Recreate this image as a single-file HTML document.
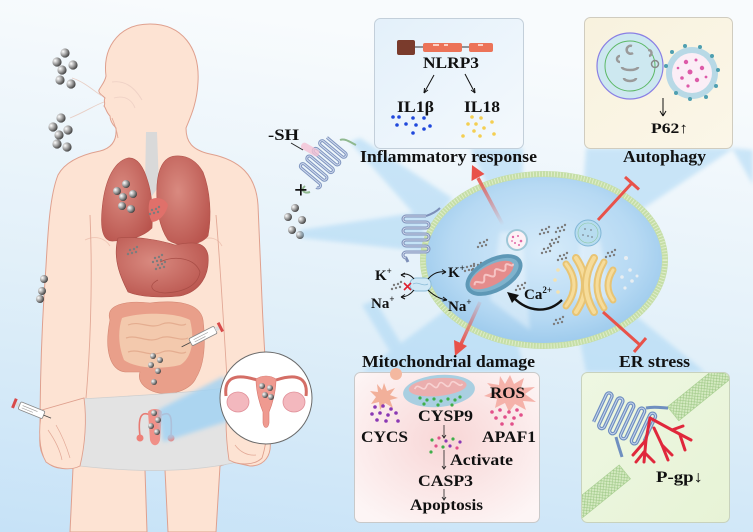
<!DOCTYPE html>
<html><head><meta charset="utf-8"><style>
html,body{margin:0;padding:0;width:753px;height:532px;overflow:hidden;background:#e6f2fa}
svg{display:block}
text{font-family:"Liberation Serif",serif;font-weight:bold;fill:#111}
</style></head><body>
<svg width="753" height="532" viewBox="0 0 753 532" xmlns="http://www.w3.org/2000/svg">
<defs>
<linearGradient id="bg" x1="0.2" y1="0" x2="0" y2="1">
<stop offset="0" stop-color="#f8fbfd"/><stop offset="0.5" stop-color="#e2f0f9"/><stop offset="1" stop-color="#c6e2f7"/>
</linearGradient>
<radialGradient id="cellg" cx="0.5" cy="0.45" r="0.6">
<stop offset="0" stop-color="#d6ebfa"/><stop offset="0.65" stop-color="#b6d9f3"/><stop offset="1" stop-color="#94c5ea"/>
</radialGradient>
<radialGradient id="ball" cx="0.3" cy="0.35" r="0.75">
<stop offset="0" stop-color="#ffffff"/><stop offset="0.45" stop-color="#a8a8a8"/><stop offset="1" stop-color="#363636"/>
</radialGradient>
<radialGradient id="lung" cx="0.4" cy="0.4" r="0.7">
<stop offset="0" stop-color="#d98a80"/><stop offset="1" stop-color="#b9544d"/>
</radialGradient>
<radialGradient id="mitoBox" cx="0.5" cy="0.45" r="0.65">
<stop offset="0" stop-color="#f8d6d6"/><stop offset="1" stop-color="#fdf5f5"/>
</radialGradient>
<linearGradient id="inflBox" x1="0" y1="0" x2="1" y2="1">
<stop offset="0" stop-color="#e3f0fa"/><stop offset="1" stop-color="#f4f9fd"/>
</linearGradient>
<linearGradient id="autoBox" x1="0" y1="0" x2="1" y2="1">
<stop offset="0" stop-color="#f8f2de"/><stop offset="1" stop-color="#fbf6e8"/>
</linearGradient>
<linearGradient id="erBox" x1="0" y1="0" x2="1" y2="1">
<stop offset="0" stop-color="#eef7e2"/><stop offset="1" stop-color="#e7f3d6"/>
</linearGradient>
<linearGradient id="redUp" x1="503" y1="225" x2="476" y2="174" gradientUnits="userSpaceOnUse">
<stop offset="0" stop-color="#e8524a" stop-opacity="0"/><stop offset="1" stop-color="#e8524a"/>
</linearGradient>
<linearGradient id="redDn" x1="480" y1="302" x2="460" y2="345" gradientUnits="userSpaceOnUse">
<stop offset="0" stop-color="#e8524a" stop-opacity="0.1"/><stop offset="1" stop-color="#e8524a"/>
</linearGradient>
<pattern id="hatch" width="4" height="4" patternUnits="userSpaceOnUse">
<rect width="4" height="4" fill="#d5eac2"/><path d="M0,4 L4,0 M0,0 L4,4" stroke="#9cc784" stroke-width="0.6"/>
</pattern>
<clipPath id="erClip"><rect x="582" y="373" width="147" height="149" rx="6"/></clipPath>
<filter id="blur" x="-20%" y="-20%" width="140%" height="140%"><feGaussianBlur stdDeviation="2"/></filter>
<g id="pc" fill="#7d7d7d">
<circle cx="0" cy="0" r="1.2"/><circle cx="4" cy="-1" r="1.2"/><circle cx="2" cy="3" r="1.2"/><circle cx="6" cy="2" r="1.2"/><circle cx="-2" cy="4" r="1.2"/><circle cx="7" cy="-3" r="1.2"/>
</g>
</defs>

<rect width="753" height="532" fill="url(#bg)"/>

<!-- ===== BODY ===== -->
<g stroke="#dfa08e" stroke-width="1" fill="#fde3d3">
<path d="M150,24 C182,24 200,48 198,82 C197,104 190,118 186,128 C186,142 192,150 210,154 C240,160 256,175 258,205 L262,300 C264,350 268,400 270,440 C272,455 265,466 250,466 L232,462 L220,466 L216,532 L168,532 L165,470 L145,470 L147,532 L70,532 L73,468 L65,468 C48,470 38,455 40,435 C40,380 42,320 46,266 C48,230 50,195 58,175 C66,160 85,154 100,151 C112,148 117,140 116,128 C112,124 110,120 110,116 C106,112 106,108 104,106 C106,104 103,100 105,98 C102,95 98,93 99,90 C101,86 105,82 106,76 C104,60 108,45 120,34 C128,27 138,24 150,24 Z"/>
</g>
<g fill="none" stroke="#e2a896" stroke-width="0.9">
<path d="M90,215 C92,260 92,330 86,398"/>
<path d="M216,215 C220,260 224,330 228,395"/>
<path d="M112,118 C115,125 117,132 118,138"/>
<path d="M85,240 C95,235 105,238 110,246" opacity="0.5"/>
<path d="M200,240 C210,236 218,238 222,246" opacity="0.5"/>
<path d="M72,78 C85,82 95,92 102,96" stroke="#e8cfc6"/>
<path d="M70,118 C85,112 95,105 104,102" stroke="#e8cfc6"/>
<path d="M112,82 C125,80 135,88 142,100" stroke="#efd2c6"/>
<path d="M114,98 C125,95 132,100 135,108" stroke="#efd2c6"/>
</g>

<path d="M146,132 L157,132 L159,186 L152,196 L145,186 Z" fill="#d9d9d9"/>
<path d="M128,158 C112,162 104,185 102,210 C100,232 104,242 114,241 C128,240 142,238 152,228 C153,210 152,195 148,182 C144,168 138,157 128,158 Z" fill="url(#lung)" stroke="#b0524a" stroke-width="0.6"/>
<path d="M175,156 C163,157 158,170 157,185 C156,205 158,225 168,240 C180,248 200,246 208,236 C212,215 210,190 203,172 C196,160 186,155 175,156 Z" fill="url(#lung)" stroke="#b0524a" stroke-width="0.6"/>
<path d="M150,200 C156,196 165,198 168,205 C166,215 158,222 152,222 C148,215 148,205 150,200 Z" fill="#e0706a"/>
<path d="M118,238 C135,236 160,240 175,245 C190,242 205,240 208,255 C210,275 200,292 180,296 C160,298 140,297 128,292 C122,280 112,260 118,238 Z" fill="url(#lung)" stroke="#a84d46" stroke-width="0.6"/>
<path d="M160,262 C175,255 195,258 200,272 C198,285 185,292 165,293 C150,292 148,285 158,280" fill="none" stroke="#a84d46" stroke-width="0.8"/>
<path d="M110,320 C105,305 125,300 150,303 C175,300 200,302 203,320 C206,345 204,365 196,378 C190,392 165,398 150,390 C140,385 138,378 140,372 L125,372 C110,370 104,350 110,320 Z" fill="#e99f8a" stroke="#d48874" stroke-width="0.6"/>
<path d="M122,318 C140,312 175,312 190,320 C195,340 192,358 180,365 C160,370 135,368 124,360 C118,345 118,330 122,318 Z" fill="#f3c9ad"/>
<g fill="none" stroke="#e4ad90" stroke-width="1.2">
<path d="M128,325 C140,320 150,330 162,324 C172,320 180,328 186,324"/>
<path d="M126,338 C138,334 148,344 160,338 C170,334 180,342 188,338"/>
<path d="M128,352 C140,348 150,358 162,352 C172,348 180,356 186,352"/>
</g>

<path d="M80,399 C130,396 190,393 233,387 L233,463 C200,470 150,474 80,466 Z" fill="#e3e3e3" stroke="#cfcfcf" stroke-width="0.8"/>
<path d="M84,398 C87,420 85,445 80,466 C70,471 55,469 46,462 C39,450 38,430 42,410 Z" fill="#fde3d3" stroke="#dfa08e" stroke-width="0.9"/>
<path d="M48,430 C55,440 60,450 62,460 M56,425 C63,437 67,448 70,458" fill="none" stroke="#e2a896" stroke-width="0.7"/>
<path d="M227,395 C225,420 226,440 229,460 C240,466 255,465 262,458 C268,440 268,420 266,400 Z" fill="#fde3d3" stroke="#dfa08e" stroke-width="0.9"/>
<path d="M235,445 C240,452 248,456 256,455" fill="none" stroke="#e2a896" stroke-width="0.7"/>

<g stroke="#e77a72" stroke-width="1.6" fill="none">
<path d="M150,415 C140,410 138,420 140,436"/><path d="M162,415 C172,410 172,420 171,436"/>
</g>
<circle cx="140" cy="438" r="3.5" fill="#ee8078"/><circle cx="171" cy="438" r="3.5" fill="#ee8078"/>
<path d="M148,412 C150,408 160,408 162,412 L160,440 C158,447 152,447 150,440 Z" fill="#f09088"/>

<polygon points="158,410 163,442 228,421 224,376" fill="#9fd2f4" opacity="0.8" filter="url(#blur)"/>
<circle cx="266" cy="398" r="46" fill="#ffffff" stroke="#6a6a6a" stroke-width="1"/>
<path d="M257,380 C232,372 224,380 226,396" fill="none" stroke="#d46e66" stroke-width="3"/>
<path d="M276,380 C300,372 308,380 306,396" fill="none" stroke="#d46e66" stroke-width="3"/>
<ellipse cx="238" cy="402" rx="11" ry="10" fill="#f3b8be" stroke="#e08f98" stroke-width="0.8"/>
<ellipse cx="294" cy="402" rx="11" ry="10" fill="#f3b8be" stroke="#e08f98" stroke-width="0.8"/>
<path d="M256,379 C256,392 260,405 263,412 L263,423 C264,429 268,429 269,423 L269,412 C272,405 276,392 276,379 C270,375 262,375 256,379 Z" fill="#ef9a90" stroke="#d77a72" stroke-width="0.6"/>
<g fill="url(#ball)"><circle cx="262" cy="386" r="3"/><circle cx="270" cy="388" r="3"/><circle cx="265" cy="395" r="3"/><circle cx="271" cy="397" r="3"/></g>

<g transform="translate(203,336) rotate(-27)">
<line x1="-24" y1="0" x2="-14" y2="0" stroke="#444" stroke-width="0.8"/>
<rect x="-14" y="-4" width="28" height="8" rx="1.5" fill="#fff" stroke="#888" stroke-width="0.8"/>
<path d="M-10,-1 h16 M-10,1.5 h12" stroke="#999" stroke-width="0.6"/>
<rect x="14" y="-2" width="4" height="4" fill="#ddd"/>
<rect x="18" y="-5" width="3" height="10" fill="#d84a4a"/>
</g>
<g transform="translate(26,408) rotate(22)">
<rect x="-14" y="-5" width="3" height="10" fill="#d84a4a"/>
<rect x="-11" y="-2" width="4" height="4" fill="#ddd"/>
<rect x="-7" y="-4" width="26" height="8" rx="1.5" fill="#fff" stroke="#888" stroke-width="0.8"/>
<path d="M-4,-1 h16 M-4,1.5 h12" stroke="#999" stroke-width="0.6"/>
<line x1="19" y1="0" x2="27" y2="0" stroke="#444" stroke-width="0.8"/>
</g>

<g fill="url(#ball)">
<circle cx="65" cy="53" r="4.6"/><circle cx="57" cy="62" r="4.6"/><circle cx="73" cy="65" r="4.6"/><circle cx="62" cy="70" r="4.6"/><circle cx="60" cy="80" r="4.6"/><circle cx="71" cy="84" r="4.6"/>
<circle cx="61" cy="118" r="4.6"/><circle cx="53" cy="127" r="4.6"/><circle cx="68" cy="130" r="4.6"/><circle cx="59" cy="135" r="4.6"/><circle cx="57" cy="144" r="4.6"/><circle cx="67" cy="147" r="4.6"/>
<circle cx="44" cy="279" r="4"/><circle cx="42" cy="291" r="4"/><circle cx="40" cy="299" r="4"/>
<circle cx="126" cy="184" r="4"/><circle cx="117" cy="191" r="4"/><circle cx="133" cy="194" r="4"/><circle cx="123" cy="197" r="4"/><circle cx="122" cy="206" r="4"/><circle cx="131" cy="209" r="4"/>
<circle cx="295" cy="208" r="4"/><circle cx="288" cy="217" r="4"/><circle cx="302" cy="220" r="4"/><circle cx="292" cy="230" r="4"/><circle cx="300" cy="235" r="4"/>
<circle cx="153" cy="356" r="3"/><circle cx="160" cy="360" r="3"/><circle cx="151" cy="365" r="3"/><circle cx="158" cy="371" r="3"/><circle cx="154" cy="382" r="3"/>
<circle cx="154" cy="413" r="3"/><circle cx="158" cy="420" r="3"/><circle cx="151" cy="426" r="3"/><circle cx="157" cy="432" r="3"/>
</g>
<use href="#pc" x="152" y="210"/><use href="#pc" x="130" y="250"/><use href="#pc" x="155" y="258"/><use href="#pc" x="158" y="265"/>

<!-- ===== BEAMS ===== -->
<g fill="#a9d6f4" opacity="0.55" filter="url(#blur)">
<polygon points="350,142 360,138 452,198 430,232"/>
<polygon points="470,148 523,148 522,236 510,236"/>
<polygon points="586,148 734,148 602,236 580,234"/>
<polygon points="470,292 506,298 525,372 362,372"/>
<polygon points="572,300 614,298 705,372 586,372"/>
<polygon points="300,230 302,238 428,252 420,212"/>
<polygon points="732,148 753,150 753,185"/>
<polygon points="362,305 375,300 412,362 398,365"/>
</g>

<!-- -SH protein outside -->
<g transform="translate(322,162) rotate(40)" fill="none">
<path d="M-12,-22 h24 a2.5,2.5 0 0 1 0,5 h-24 a2.5,2.5 0 0 0 0,5 h24 a2.5,2.5 0 0 1 0,5 h-24 a2.5,2.5 0 0 0 0,5 h24 a2.5,2.5 0 0 1 0,5 h-24 a2.5,2.5 0 0 0 0,5 h24 a2.5,2.5 0 0 1 0,5 h-24 a2.5,2.5 0 0 0 0,5 h24 a2.5,2.5 0 0 1 0,5" stroke="#7f95bf" stroke-width="3"/>
<path d="M-12,-22 h24 a2.5,2.5 0 0 1 0,5 h-24 a2.5,2.5 0 0 0 0,5 h24 a2.5,2.5 0 0 1 0,5 h-24 a2.5,2.5 0 0 0 0,5 h24 a2.5,2.5 0 0 1 0,5 h-24 a2.5,2.5 0 0 0 0,5 h24 a2.5,2.5 0 0 1 0,5 h-24 a2.5,2.5 0 0 0 0,5 h24 a2.5,2.5 0 0 1 0,5" stroke="#d3dcef" stroke-width="1"/>
</g>
<path d="M340,140 C345,138 350,142 356,145" fill="none" stroke="#8fb88f" stroke-width="2"/>
<path d="M305,186 C300,190 304,194 310,192" fill="none" stroke="#8fb88f" stroke-width="2"/>
<rect x="300" y="146" width="20" height="7" rx="3" fill="#f4c2d4" opacity="0.8" transform="rotate(30 310 150)"/>
<line x1="291" y1="143" x2="303" y2="150" stroke="#222" stroke-width="1"/>

<!-- ===== CELL ===== -->
<ellipse cx="544" cy="260" rx="121" ry="86" fill="url(#cellg)" stroke="#c5dea6" stroke-width="6"/>
<ellipse cx="544" cy="260" rx="121" ry="86" fill="none" stroke="#eaf3dc" stroke-width="5" stroke-dasharray="1 2" opacity="0.7"/>
<g fill="#ffffff" opacity="0.35" filter="url(#blur)">
<polygon points="500,232 522,232 530,330 490,300"/>
<polygon points="580,240 600,240 612,300 575,300"/>
</g>

<g fill="none">
<path d="M426,216 h-20 a3,3 0 0 0 0,6 h20 a3,3 0 0 1 0,6 h-20 a3,3 0 0 0 0,6 h20 a3,3 0 0 1 0,6 h-20 a3,3 0 0 0 0,6 h20 a3,3 0 0 1 0,6 h-20 a3,3 0 0 0 0,6 l2,4" stroke="#7d8fb8" stroke-width="3"/>
<path d="M426,216 h-20 a3,3 0 0 0 0,6 h20 a3,3 0 0 1 0,6 h-20 a3,3 0 0 0 0,6 h20 a3,3 0 0 1 0,6 h-20 a3,3 0 0 0 0,6 h20 a3,3 0 0 1 0,6 h-20 a3,3 0 0 0 0,6" stroke="#cfd8ec" stroke-width="1"/>
<path d="M426,216 C432,214 436,212 440,208" stroke="#7d8fb8" stroke-width="2"/>
</g>

<rect x="410" y="278" width="21" height="13" rx="6" fill="#cfe8f6" stroke="#8cbcd8" stroke-width="1"/>
<path d="M413,284 C418,281 423,287 428,284" fill="none" stroke="#8cbcd8" stroke-width="0.8"/>
<g fill="none" stroke="#111" stroke-width="1">
<path d="M414,279 C410,274 405,273 401,275"/><path d="M401,275 l4,-2 m-4,2 l4,2"/>
<path d="M428,279 C434,272 440,271 446,272"/><path d="M446,272 l-4,-2.5 m4,2.5 l-4,2"/>
<path d="M414,290 C410,295 405,297 401,297"/><path d="M401,297 l4,-2.5 m-4,2.5 l4,2"/>
<path d="M428,290 C434,296 440,299 447,300"/><path d="M447,300 l-4,-3 m4,3 l-4.5,1"/>
</g>
<path d="M404,283 l7,7 m0,-7 l-7,7" stroke="#e02030" stroke-width="1.6"/>
<use href="#pc" x="394" y="285"/><use href="#pc" x="467" y="267"/>

<circle cx="517" cy="240" r="11" fill="#9fc8d8"/>
<circle cx="517" cy="240" r="9" fill="#fdf1f6"/>
<g fill="#e066a6"><circle cx="513" cy="237" r="1.2"/><circle cx="518" cy="236" r="1"/><circle cx="521" cy="241" r="1.3"/><circle cx="515" cy="243" r="1"/><circle cx="519" cy="245" r="1"/><circle cx="512" cy="241" r="0.9"/></g>
<circle cx="588" cy="233" r="13" fill="#b7dcef" stroke="#7fb6d6" stroke-width="1"/>
<circle cx="588" cy="233" r="10" fill="none" stroke="#8cc8a0" stroke-width="0.6"/>
<g fill="#8a9aa8"><circle cx="585" cy="229" r="1"/><circle cx="591" cy="230" r="1"/><circle cx="588" cy="236" r="1"/><circle cx="583" cy="235" r="1"/><circle cx="592" cy="237" r="1"/></g>

<use href="#pc" x="480" y="243"/><use href="#pc" x="542" y="230"/><use href="#pc" x="552" y="240"/><use href="#pc" x="544" y="249"/><use href="#pc" x="560" y="256"/><use href="#pc" x="558" y="228"/><use href="#pc" x="608" y="253"/><use href="#pc" x="518" y="286"/><use href="#pc" x="474" y="266"/><use href="#pc" x="556" y="320"/>
<g fill="#e8eef2"><circle cx="626" cy="258" r="2"/><circle cx="630" cy="270" r="1.8"/><circle cx="622" cy="277" r="1.8"/><circle cx="632" cy="281" r="1.8"/><circle cx="625" cy="288" r="1.6"/><circle cx="637" cy="276" r="1.5"/></g>

<g transform="translate(494,275) rotate(-28)">
<ellipse rx="31" ry="17" fill="#5e98b6"/>
<ellipse rx="27" ry="13" fill="#7fb2cc"/>
<ellipse cx="-2" cy="-1" rx="24" ry="10" fill="#e48c8c"/>
<path d="M-22,0 C-18,-8 -14,8 -10,-2 C-6,-10 -2,8 2,-2 C6,-10 10,8 14,-2 C17,-8 20,4 22,-1" fill="none" stroke="#f6c4c4" stroke-width="2"/>
</g>

<!-- golgi -->
<g fill="none" stroke-linecap="round">
<path d="M566,264 Q582,285 566,306" stroke="#e8c474" stroke-width="7"/>
<path d="M566,264 Q582,285 566,306" stroke="#f6dc9a" stroke-width="3"/>
<path d="M576,258 Q594,285 576,312" stroke="#e8c474" stroke-width="8"/>
<path d="M576,258 Q594,285 576,312" stroke="#f6dc9a" stroke-width="4"/>
<path d="M594,258 Q578,285 594,312" stroke="#e8c474" stroke-width="8"/>
<path d="M594,258 Q578,285 594,312" stroke="#f6dc9a" stroke-width="4"/>
<path d="M604,262 Q590,286 604,308" stroke="#e8c474" stroke-width="7"/>
<path d="M604,262 Q590,286 604,308" stroke="#f6dc9a" stroke-width="3"/>
<path d="M613,270 Q603,286 613,300" stroke="#e8c474" stroke-width="7"/>
<path d="M613,270 Q603,286 613,300" stroke="#f6dc9a" stroke-width="3"/>
</g>
<g fill="#f4e2b0"><circle cx="558" cy="270" r="1.8"/><circle cx="555" cy="280" r="1.8"/><circle cx="558" cy="292" r="1.8"/><circle cx="560" cy="302" r="1.6"/></g>

<path d="M562,300 C548,314 528,312 514,298" fill="none" stroke="#111" stroke-width="2.4"/>
<path d="M507,292 L519,295 L512,303 Z" fill="#111"/>

<line x1="503" y1="225" x2="478" y2="178" stroke="url(#redUp)" stroke-width="3.5"/>
<polygon points="472,165 484.5,174 471.5,181" fill="#e8524a"/>
<line x1="480" y1="302" x2="461" y2="344" stroke="url(#redDn)" stroke-width="3.5"/>
<polygon points="455,356 467,346 454,340" fill="#e8524a"/>
<line x1="598" y1="220" x2="632" y2="183" stroke="#e8524a" stroke-width="3"/>
<line x1="625" y1="177" x2="639" y2="189.5" stroke="#e8524a" stroke-width="3"/>
<line x1="603" y1="312" x2="640" y2="345" stroke="#e8524a" stroke-width="3"/>
<line x1="646" y1="338" x2="634" y2="352" stroke="#e8524a" stroke-width="3"/>

<!-- ===== BOXES ===== -->
<rect x="374.5" y="18.5" width="149" height="130" rx="6" fill="url(#inflBox)" stroke="#c3cfda" stroke-width="1"/>
<rect x="584.5" y="17.5" width="148" height="131" rx="6" fill="url(#autoBox)" stroke="#d0ccbf" stroke-width="1"/>
<rect x="354.5" y="372.5" width="185" height="150" rx="6" fill="url(#mitoBox)" stroke="#c9c9c9" stroke-width="1"/>
<rect x="581.5" y="372.5" width="148" height="150" rx="6" fill="url(#erBox)" stroke="#c8d2bd" stroke-width="1"/>

<rect x="397" y="40" width="18" height="15" rx="2" fill="#7a3b2c"/>
<line x1="415" y1="47" x2="470" y2="47" stroke="#333" stroke-width="1"/>
<rect x="423" y="43" width="39" height="9" rx="2" fill="#ec7358"/>
<rect x="469" y="43" width="24" height="9" rx="2" fill="#ec7358"/>
<rect x="433" y="44" width="6" height="2" fill="#fbd0c4"/><rect x="444" y="44" width="4" height="2" fill="#fbd0c4"/><rect x="478" y="44" width="5" height="2" fill="#fbd0c4"/>
<g stroke="#111" stroke-width="1" fill="none">
<path d="M434,75 L424,93"/><path d="M424,93 l0.5,-5 m-0.5,5 l4,-3"/>
<path d="M465,74 L475,93"/><path d="M475,93 l-4,-3 m4,3 l-0.5,-5"/>
</g>
<g fill="#1f48dc">
<circle cx="393" cy="117" r="1.8"/><circle cx="399" cy="117" r="1.8"/><circle cx="413" cy="118" r="1.8"/><circle cx="424" cy="118" r="1.8"/><circle cx="397" cy="125" r="1.8"/><circle cx="406" cy="124" r="1.8"/><circle cx="416" cy="125" r="1.8"/><circle cx="430" cy="126" r="1.8"/><circle cx="424" cy="129" r="1.8"/><circle cx="413" cy="133" r="1.8"/>
</g>
<g fill="#f4cf52">
<circle cx="472" cy="117" r="1.8"/><circle cx="481" cy="118" r="1.8"/><circle cx="468" cy="124" r="1.8"/><circle cx="476" cy="124" r="1.8"/><circle cx="492" cy="122" r="1.8"/><circle cx="484" cy="128" r="1.8"/><circle cx="474" cy="131" r="1.8"/><circle cx="463" cy="136" r="1.8"/><circle cx="480" cy="136" r="1.8"/><circle cx="494" cy="134" r="1.8"/>
</g>

<circle cx="630" cy="66" r="33" fill="#cde8f0" stroke="#8a7fe4" stroke-width="1.2"/>
<circle cx="630" cy="66" r="25" fill="none" stroke="#5cb866" stroke-width="1"/>
<g fill="none" stroke="#9a9a9a" stroke-width="2.5">
<path d="M632,46 a4,4 0 1 0 1,7"/><path d="M620,56 a3,3 0 1 0 0,6"/><path d="M648,50 a3,3 0 1 1 1,6"/>
<path d="M622,67 a8,3 0 0 0 16,0"/><path d="M624,78 a6,3 0 0 0 12,0"/>
</g>
<circle cx="655" cy="64" r="3.5" fill="none" stroke="#888" stroke-width="1.5"/>
<circle cx="692" cy="73" r="26" fill="#b8d9e6"/>
<g fill="#4f9fb0"><circle cx="666" cy="66" r="2"/><circle cx="672" cy="52" r="2"/><circle cx="685" cy="46" r="2"/><circle cx="700" cy="47" r="2"/><circle cx="712" cy="56" r="2"/><circle cx="718" cy="70" r="2"/><circle cx="716" cy="86" r="2"/><circle cx="706" cy="97" r="2"/><circle cx="690" cy="99" r="2"/><circle cx="676" cy="93" r="2"/></g>
<circle cx="692" cy="73" r="20" fill="#fbeef6"/>
<g fill="#dd5aa8"><circle cx="686" cy="62" r="2.2"/><circle cx="696" cy="60" r="1.5"/><circle cx="702" cy="68" r="2.2"/><circle cx="690" cy="72" r="2.5"/><circle cx="682" cy="78" r="1.8"/><circle cx="697" cy="80" r="2.2"/><circle cx="706" cy="77" r="1.4"/><circle cx="688" cy="86" r="1.6"/><circle cx="678" cy="68" r="1.3"/></g>
<g stroke="#111" stroke-width="1" fill="none"><path d="M663,98 L663,116"/><path d="M663,116 l-3,-5 m3,5 l3,-5"/></g>

<polygon points="384,383 387,391 395,388 390,395 398,398 390,400 393,408 385,403 380,410 379,402 371,404 376,397 370,391 378,392 377,384 382,390" fill="#f2b09a"/>
<circle cx="396" cy="374" r="6" fill="#f4b8a0"/>
<polygon points="510,375 514,384 524,378 521,388 535,387 525,394 536,402 523,401 526,410 515,404 509,412 505,403 495,408 497,399 484,396 495,391 487,383 499,385 500,376 505,384" fill="#f5b2aa"/>
<g transform="translate(439,391) rotate(-5)">
<ellipse rx="36" ry="16" fill="#a9cfe1"/>
<ellipse cx="-1" cy="-4" rx="29" ry="9" fill="#ebaeae"/>
<path d="M-24,-4 C-20,-12 -16,2 -12,-6 C-8,-14 -4,2 0,-6 C4,-14 8,2 12,-6 C16,-13 20,0 24,-5" fill="none" stroke="#f8d2d2" stroke-width="1.6"/>
</g>
<g fill="#3fae4a"><circle cx="420" cy="398" r="1.6"/><circle cx="427" cy="400" r="1.6"/><circle cx="434" cy="399" r="1.6"/><circle cx="441" cy="401" r="1.6"/><circle cx="448" cy="399" r="1.6"/><circle cx="455" cy="400" r="1.6"/><circle cx="424" cy="404" r="1.6"/><circle cx="438" cy="405" r="1.6"/><circle cx="452" cy="405" r="1.6"/><circle cx="460" cy="397" r="1.6"/></g>
<g fill="#8a38b4"><circle cx="375" cy="407" r="1.8"/><circle cx="383" cy="406" r="1.8"/><circle cx="391" cy="409" r="1.8"/><circle cx="372" cy="414" r="1.8"/><circle cx="380" cy="413" r="1.8"/><circle cx="388" cy="415" r="1.8"/><circle cx="396" cy="413" r="1.8"/><circle cx="377" cy="420" r="1.8"/><circle cx="386" cy="421" r="1.8"/><circle cx="398" cy="421" r="1.8"/></g>
<g fill="#e2508a"><circle cx="492" cy="412" r="1.8"/><circle cx="500" cy="410" r="1.8"/><circle cx="509" cy="412" r="1.8"/><circle cx="517" cy="410" r="1.8"/><circle cx="496" cy="418" r="1.8"/><circle cx="505" cy="417" r="1.8"/><circle cx="514" cy="418" r="1.8"/><circle cx="521" cy="415" r="1.8"/><circle cx="502" cy="424" r="1.8"/><circle cx="512" cy="424" r="1.8"/></g>
<g><circle cx="432" cy="440" r="1.6" fill="#3fae4a"/><circle cx="439" cy="438" r="1.6" fill="#e2508a"/><circle cx="446" cy="441" r="1.6" fill="#8a38b4"/><circle cx="453" cy="439" r="1.6" fill="#3fae4a"/><circle cx="460" cy="442" r="1.6" fill="#8a38b4"/><circle cx="436" cy="446" r="1.6" fill="#e2508a"/><circle cx="443" cy="447" r="1.6" fill="#3fae4a"/><circle cx="450" cy="446" r="1.6" fill="#8a38b4"/><circle cx="457" cy="448" r="1.6" fill="#e2508a"/><circle cx="431" cy="452" r="1.6" fill="#3fae4a"/></g>
<g stroke="#222" stroke-width="0.8" fill="none">
<path d="M444,425 L444,438 M442,435 l2,3 l2,-3"/>
<path d="M444,450 L444,469 M442,466 l2,3 l2,-3"/>
<path d="M444,489 L444,500 M442,497 l2,3 l2,-3"/>
</g>

<!-- ER content -->
<g clip-path="url(#erClip)">
<g transform="rotate(-39 600 492)"><rect x="570" y="483" width="62" height="18" fill="url(#hatch)" stroke="#a9cf92" stroke-width="0.6"/></g>
<g transform="rotate(-39 705 388)"><rect x="664" y="379" width="90" height="18" fill="url(#hatch)" stroke="#a9cf92" stroke-width="0.6"/></g>
</g>
<g transform="translate(622,413) rotate(25)" fill="none">
<path d="M-22,20 v-30 a3,3 0 0 1 6,0 v30 a3,3 0 0 0 6,0 v-30 a3,3 0 0 1 6,0 v30 a3,3 0 0 0 6,0 v-30 a3,3 0 0 1 6,0 v30 a3,3 0 0 0 6,0 v-30 a3,3 0 0 1 6,0 v30 a3,3 0 0 0 6,0 v-30 a3,3 0 0 1 6,0 v26" stroke="#6f8fc0" stroke-width="3.4"/>
<path d="M-22,20 v-30 a3,3 0 0 1 6,0 v30 a3,3 0 0 0 6,0 v-30 a3,3 0 0 1 6,0 v30 a3,3 0 0 0 6,0 v-30 a3,3 0 0 1 6,0 v30 a3,3 0 0 0 6,0 v-30 a3,3 0 0 1 6,0 v30 a3,3 0 0 0 6,0 v-30 a3,3 0 0 1 6,0 v26" stroke="#c8d6ee" stroke-width="1"/>
</g>
<path d="M646,408 C655,406 662,408 668,408" fill="none" stroke="#6f8fc0" stroke-width="3"/>
<path d="M616,437 C618,445 620,450 622,457" fill="none" stroke="#6f8fc0" stroke-width="3"/>
<g stroke="#e0283c" stroke-width="3" fill="none" stroke-linecap="round">
<path d="M650,418 L646,440 L644,462"/>
<path d="M646,440 L633,455"/><path d="M644,452 L636,462"/><path d="M644,452 L654,462"/>
<path d="M650,418 L672,430 L691,440"/><path d="M672,430 L683,426"/><path d="M680,435 L685,450"/>
<path d="M654,428 L662,445 L668,460"/><path d="M662,445 L672,455"/>
</g>

<!-- ===== TEXT ===== -->
<text x="360" y="162" font-size="17" textLength="177" lengthAdjust="spacingAndGlyphs">Inflammatory response</text>
<text x="623" y="162" font-size="17" textLength="83" lengthAdjust="spacingAndGlyphs">Autophagy</text>
<text x="423" y="68" font-size="16" textLength="56" lengthAdjust="spacingAndGlyphs">NLRP3</text>
<text x="397" y="112" font-size="16" textLength="37" lengthAdjust="spacingAndGlyphs">IL1β</text>
<text x="464" y="112" font-size="16" textLength="36" lengthAdjust="spacingAndGlyphs">IL18</text>
<text x="651" y="133" font-size="15" textLength="37" lengthAdjust="spacingAndGlyphs">P62↑</text>
<text x="362" y="367" font-size="17" textLength="173" lengthAdjust="spacingAndGlyphs">Mitochondrial damage</text>
<text x="619" y="367" font-size="17" textLength="71" lengthAdjust="spacingAndGlyphs">ER stress</text>
<text x="361" y="442" font-size="16" textLength="47" lengthAdjust="spacingAndGlyphs">CYCS</text>
<text x="418" y="421" font-size="16" textLength="55" lengthAdjust="spacingAndGlyphs">CYSP9</text>
<text x="490" y="398" font-size="16" textLength="35" lengthAdjust="spacingAndGlyphs">ROS</text>
<text x="482" y="442" font-size="16" textLength="54" lengthAdjust="spacingAndGlyphs">APAF1</text>
<text x="450" y="465" font-size="16" textLength="63" lengthAdjust="spacingAndGlyphs">Activate</text>
<text x="418" y="486" font-size="16" textLength="55" lengthAdjust="spacingAndGlyphs">CASP3</text>
<text x="410" y="510" font-size="16" textLength="73" lengthAdjust="spacingAndGlyphs">Apoptosis</text>
<text x="656" y="482" font-size="16" textLength="47" lengthAdjust="spacingAndGlyphs">P-gp↓</text>
<text x="268" y="140" font-size="16" textLength="31" lengthAdjust="spacingAndGlyphs">-SH</text>
<text x="294" y="198" font-size="24">+</text>
<text x="375" y="280" font-size="15">K<tspan font-size="9" dy="-6">+</tspan></text>
<text x="371" y="308" font-size="15">Na<tspan font-size="9" dy="-6">+</tspan></text>
<text x="448" y="277" font-size="15">K<tspan font-size="9" dy="-6">+</tspan></text>
<text x="448" y="311" font-size="15">Na<tspan font-size="9" dy="-6">+</tspan></text>
<text x="524" y="299" font-size="15">Ca<tspan font-size="9" dy="-6">2+</tspan></text>
</svg>
</body></html>
